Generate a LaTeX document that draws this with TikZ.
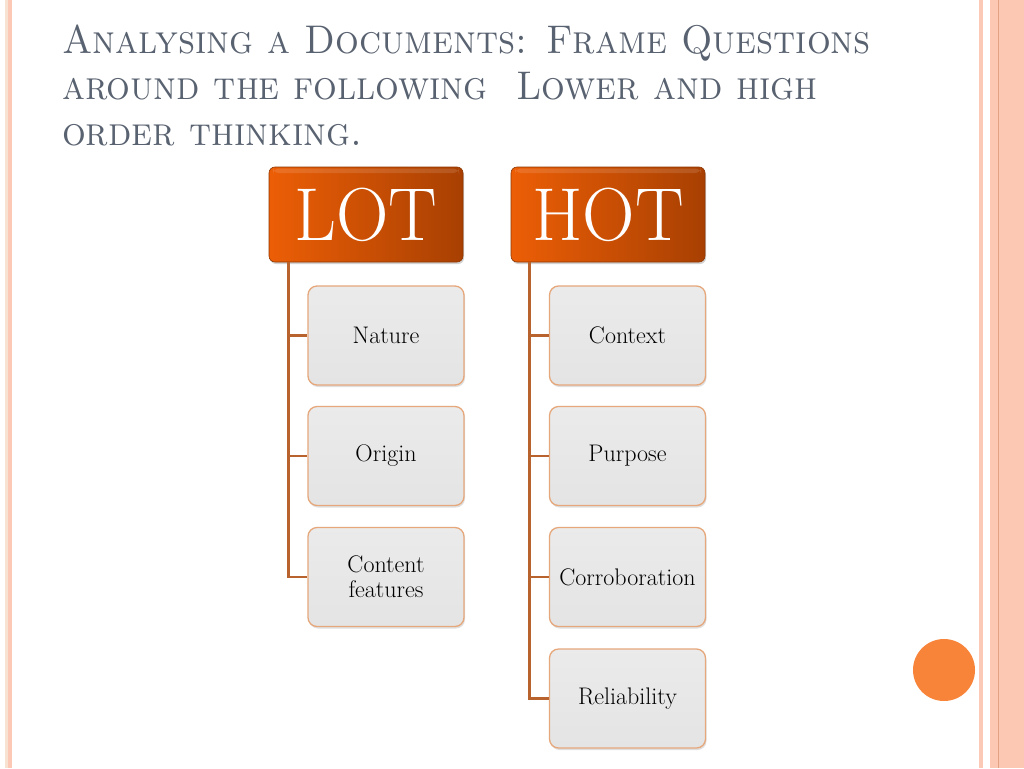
\documentclass[tikz,border=0pt]{standalone}
\usetikzlibrary{calc,shadows}
\definecolor{titlegray}{HTML}{596270}
\definecolor{stripepink}{HTML}{FBC9B5}
\definecolor{stripebeige}{HTML}{F8E3D3}
\definecolor{widepink}{HTML}{FCC8B4}
\definecolor{pinkline}{HTML}{E3A184}
\definecolor{dotorange}{HTML}{F8843A}
\definecolor{hdrleft}{HTML}{EC5E06}
\definecolor{hdrmid}{HTML}{F86A0A}
\definecolor{hdrdark}{HTML}{A84002}
\definecolor{connbrown}{HTML}{B8632E}
\definecolor{childborder}{HTML}{E6A77A}
\definecolor{childfill}{HTML}{E4E4E4}
\tikzset{
  titletext/.style={anchor=base west, inner sep=0pt, text=titlegray, xscale=0.935, transform shape,
    font=\fontsize{40}{45}\selectfont\scshape},
  header/.style={rounded corners=6pt, minimum width=194pt, minimum height=95pt, inner sep=0pt,
    left color=hdrleft, middle color=hdrmid, right color=hdrdark, draw=hdrdark!85!black, line width=0.6pt,
    text=white, font=\fontsize{75}{80}\selectfont,
    drop shadow={opacity=0.35, shadow xshift=1pt, shadow yshift=-2pt},
    path picture={\fill[white, opacity=0.12] ([xshift=4pt,yshift=-1.5pt]path picture bounding box.north west) rectangle ([xshift=-4pt,yshift=-6pt]path picture bounding box.north east);}},
  child/.style={rounded corners=9pt, minimum width=156pt, minimum height=99pt, inner sep=0pt,
    top color=childfill!75!white, bottom color=childfill, draw=childborder, line width=1.3pt, align=center,
    font=\fontsize{24}{25}\selectfont,
    drop shadow={opacity=0.25, shadow xshift=1pt, shadow yshift=-2pt}},
  conn/.style={draw=connbrown, line width=2.5pt}
}
\begin{document}
\begin{tikzpicture}[x=1pt,y=-1pt]
\useasboundingbox (0,0) rectangle (1024,768);
\fill[white] (0,0) rectangle (1024,768);
% frame stripes
\fill[stripebeige] (5,0) rectangle (7.5,768);
\fill[stripepink] (8,0) rectangle (12,768);
\fill[stripepink] (979,0) rectangle (983,768);
\fill[widepink] (990,0) rectangle (1024,768);
\draw[pinkline, line width=0.8pt] (998,0) -- (998,768);
\fill[dotorange] (944,670) circle (31);
% title
\node[titletext] (t1) at (62,53) {Analysing a Documents: Frame Questions};
\node[titletext] (t2) at (62,99) {around the following\ \ Lower and high};
\node[titletext] (t3) at (62,145) {order thinking.};
% headers
\node[header] (lot) at (366,214.5) {\scalebox{0.97}[1]{LOT}};
\node[header] (hot) at (608,214.5) {\scalebox{0.97}[1]{HOT}};
\coordinate (lotstem) at ($(lot.south west)+(20,0)$);
\coordinate (hotstem) at ($(hot.south west)+(19,0)$);
% children
\node[child] (nature) at (386,335.5) {Nature};
\node[child] (origin) at (386,456) {Origin};
\node[child] (content) at (386,577) {Content\\features};
\node[child] (context) at (627.5,335.5) {Context};
\node[child] (purpose) at (627.5,456) {Purpose};
\node[child] (corrob) at (627.5,577) {Corroboration};
\node[child] (reliab) at (627.5,698.5) {Reliability};
% connectors
\draw[conn] (lotstem) |- (nature.west);
\draw[conn] (lotstem) |- (origin.west);
\draw[conn] (lotstem) |- (content.west);
\draw[conn] (hotstem) |- (context.west);
\draw[conn] (hotstem) |- (purpose.west);
\draw[conn] (hotstem) |- (corrob.west);
\draw[conn] (hotstem) |- (reliab.west);
\end{tikzpicture}
\end{document}
